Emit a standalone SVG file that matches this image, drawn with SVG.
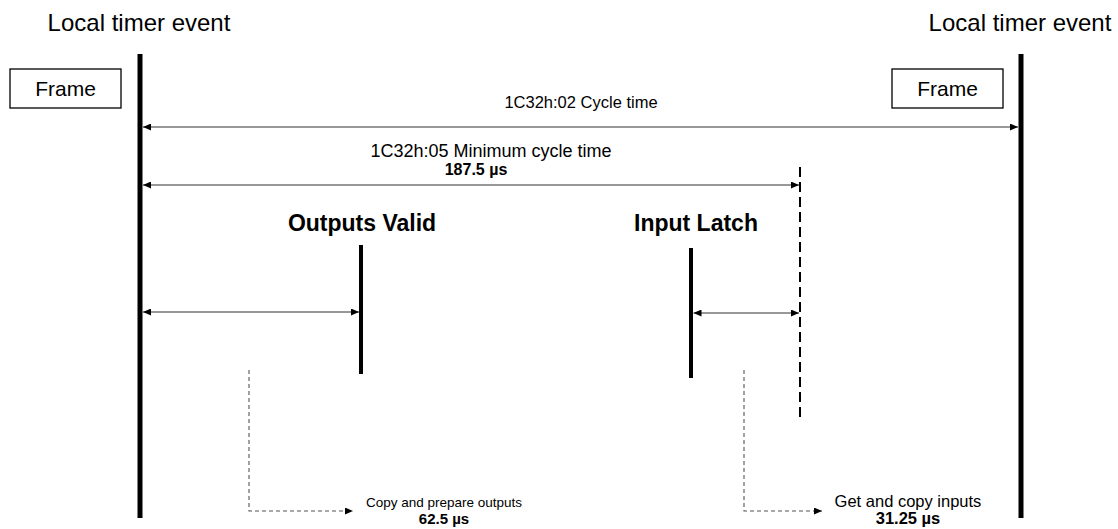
<svg xmlns="http://www.w3.org/2000/svg" width="1118" height="529" viewBox="0 0 1118 529">
<style>
text{font-family:"Liberation Sans",Arial,sans-serif;fill:#000}
.big{font-size:24px}
.frame{font-size:21px}
.lbl{font-size:16.5px}
.b{font-weight:bold}
.thick{stroke:#000;stroke-width:5;fill:none}
.mid{stroke:#000;stroke-width:4;fill:none}
.dim{stroke:#333;stroke-width:1.2;fill:none;marker-start:url(#ah);marker-end:url(#ah)}
.dash{stroke:#000;stroke-width:2;fill:none;stroke-dasharray:10 5}
.gdash{stroke:#555;stroke-width:1.1;fill:none;stroke-dasharray:4 3;marker-end:url(#ah)}
.box{fill:#fff;stroke:#000;stroke-width:1.3}
</style>
<defs>
<marker id="ah" viewBox="0 0 8 7" refX="8" refY="3.5" markerWidth="8" markerHeight="7" markerUnits="userSpaceOnUse" orient="auto-start-reverse">
<path d="M0,0 L8,3.5 L0,7 z" fill="#000"/>
</marker>
</defs>

<g id="event-left">
<text class="big" x="139" y="31" text-anchor="middle">Local timer event</text>
<line class="thick" x1="140" y1="54" x2="140" y2="518"/>
</g>
<g id="event-right">
<text class="big" x="1020" y="31" text-anchor="middle">Local timer event</text>
<line class="thick" x1="1021" y1="54" x2="1021" y2="518"/>
</g>
<g id="frame-left">
<rect class="box" x="10" y="69" width="111" height="39"/>
<text class="frame" x="65.5" y="96" text-anchor="middle">Frame</text>
</g>
<g id="frame-right">
<rect class="box" x="892" y="69" width="111" height="39"/>
<text class="frame" x="947.5" y="96" text-anchor="middle">Frame</text>
</g>
<g id="outputs-valid">
<text class="b" style="font-size:23px" x="362" y="231" text-anchor="middle">Outputs Valid</text>
<line class="mid" x1="361" y1="245" x2="361" y2="374"/>
</g>
<g id="input-latch">
<text class="b" style="font-size:23px" x="696" y="231" text-anchor="middle">Input Latch</text>
<line class="mid" x1="691" y1="248" x2="691" y2="378"/>
</g>
<g id="min-cycle-end">
<line class="dash" x1="800" y1="167" x2="800" y2="418"/>
</g>
<g id="copy-outputs">
<text style="font-size:13.5px" x="444" y="507" text-anchor="middle">Copy and prepare outputs</text>
<text class="b" style="font-size:15px" x="444" y="524" text-anchor="middle">62.5 µs</text>
</g>
<g id="copy-inputs">
<text class="lbl" x="908" y="507" text-anchor="middle">Get and copy inputs</text>
<text class="lbl b" x="908" y="524" text-anchor="middle">31.25 µs</text>
</g>
<g id="labels">
<text class="lbl" x="581" y="108" text-anchor="middle">1C32h:02 Cycle time</text>
<text style="font-size:18px" x="491" y="157" text-anchor="middle">1C32h:05 Minimum cycle time</text>
<text class="b" style="font-size:16px" x="476" y="175" text-anchor="middle">187.5 µs</text>
</g>
<g id="connectors">
<line class="dim" x1="143" y1="127" x2="1018" y2="127"/>
<line class="dim" x1="143" y1="185" x2="799" y2="185"/>
<line class="dim" x1="143" y1="312" x2="359" y2="312"/>
<line class="dim" x1="693.5" y1="313" x2="799" y2="313"/>
<path class="gdash" d="M249 370 V511 H353"/>
<path class="gdash" d="M744 370 V511 H822"/>
</g>
</svg>
